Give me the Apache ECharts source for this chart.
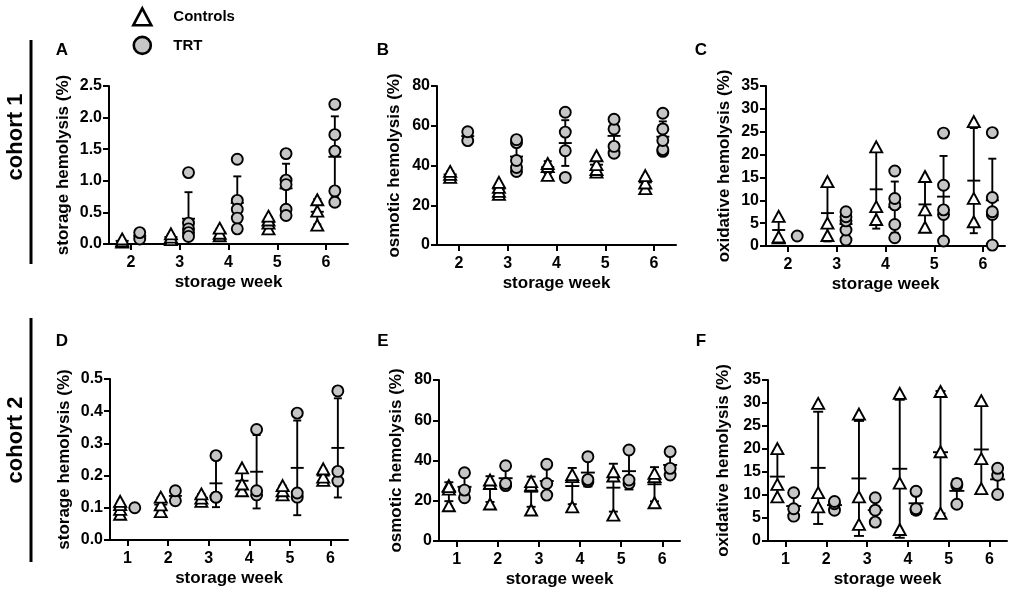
<!DOCTYPE html>
<html><head><meta charset="utf-8">
<script src="https://cdn.jsdelivr.net/npm/echarts@6/dist/echarts.min.js"></script>
<style>html,body{margin:0;padding:0;background:#fff}#chart{width:1013px;height:591px}</style>
</head><body><div id="chart"></div>
<script>
// ---------- data ----------
const weeksCohort1 = [2, 3, 4, 5, 6];
const weeksCohort2 = [1, 2, 3, 4, 5, 6];
const yMaxes = [2.5, 80, 35, 0.5, 80, 35];
const yIntervals = [0.5, 20, 5, 0.1, 20, 5];
const yDecimals = [1, 0, 0, 1, 0, 0];
const yTitles = ['storage hemolysis (%)', 'osmotic hemolysis (%)', 'oxidative hemolysis (%)',
                 'storage hemolysis (%)', 'osmotic hemolysis (%)', 'oxidative hemolysis (%)'];
const panelLetters = ['A', 'B', 'C', 'D', 'E', 'F'];
const xTitle = 'storage week';
const seriesNames = ['Controls', 'TRT'];
const cohortLabels = ['cohort 1', 'cohort 2'];

// A: storage hemolysis, cohort 1
const storage1Controls = [[0.03,0.05,0.08],[0.07,0.11,0.16],[0.13,0.17,0.25],[0.24,0.33,0.38,0.44],[0.30,0.52,0.70]];
const storage1ControlsMean = [0.05,0.11,0.18,0.35,0.51];
const storage1ControlsSD = [0.02,0.045,0.06,0.08,0.2];
const storage1TRT = [[0.08,0.18],[1.13,0.33,0.24,0.18,0.12],[1.34,0.69,0.55,0.41,0.24],[1.43,1.01,0.94,0.55,0.45],[2.21,1.73,1.47,0.84,0.66]];
const storage1TRTMean = [0.13,0.40,0.65,0.88,1.38];
const storage1TRTSD = [0.07,0.42,0.42,0.39,0.64];

// B: osmotic hemolysis, cohort 1
const osmotic1Controls = [[34,35.5,37],[25.5,27,29,31.5],[35,39.5,41],[36.7,38,40.4,44.9],[28.4,31.2,34.9]];
const osmotic1ControlsMean = [35.5,28.3,39.2,40.4,31.5];
const osmotic1ControlsSD = [1.5,2.6,3,3.6,3.3];
const osmotic1TRT = [[52.5,57],[37,39,42.5,51.5,53],[34,47.4,56.8,66.8],[46.2,49.6,58.4,63.3],[47.1,48,52.6,58.4,66.3]];
const osmotic1TRTMean = [54.8,44.5,51.3,54.9,54.5];
const osmotic1TRTSD = [3.2,7,11.5,8,7.7];

// C: oxidative hemolysis, cohort 1
const oxidative1Controls = [[1.8,2,6.5],[2.3,5,14.1],[5.8,8.6,21.7],[4.1,7.9,15.2],[5.3,10.4,27.2]];
const oxidative1ControlsMean = [3.5,7.2,12.4,9.1,14.3];
const oxidative1ControlsSD = [2.7,6.2,8.6,5.6,11.5];
const oxidative1TRT = [[2.2],[1.3,3.5,5.5,6.4,7.5],[1.8,4.7,9,10.4,16.4],[1.1,6.9,7.9,13.3,24.7],[0.2,6.9,7.5,10.6,24.8]];
const oxidative1TRTMean = [2.2,4.8,8.5,10.8,10.0];
const oxidative1TRTSD = [0,2.4,5.6,8.9,9.1];

// D: storage hemolysis, cohort 2
const storage2Controls = [[0.08,0.095,0.11,0.12],[0.088,0.109,0.133],[0.12,0.13,0.143],[0.153,0.174,0.224],[0.14,0.153,0.169],[0.185,0.195,0.221]];
const storage2ControlsMean = [0.101,0.11,0.131,0.184,0.154,0.2];
const storage2ControlsSD = [0.018,0.022,0.012,0.036,0.015,0.019];
const storage2TRT = [[0.10],[0.122,0.153],[0.133,0.133,0.262],[0.14,0.153,0.343],[0.133,0.146,0.394],[0.183,0.213,0.463]];
const storage2TRTMean = [0.10,0.137,0.176,0.212,0.224,0.286];
const storage2TRTSD = [0,0.022,0.074,0.114,0.147,0.154];

// E: osmotic hemolysis, cohort 2
const osmotic2Controls = [[17.5,25.8,27.5,27],[18.4,28.6,30.3],[15.4,27.8,29.5],[17,32,33],[12.9,32.3,34.4],[19,32,33.6]];
const osmotic2ControlsMean = [24.5,25.8,24.5,27.3,26.5,28.2];
const osmotic2ControlsSD = [4.7,6.4,7.5,9,11.9,8.5];
const osmotic2TRT = [[21.5,25.3,33.9],[27.5,28.6,37.4],[22.8,28.6,38.1],[29.5,30.5,41.9],[28.6,30.3,45.2],[32.8,36.1,44.4]];
const osmotic2TRTMean = [26.9,31.2,29.8,34,34.7,37.8];
const osmotic2TRTSD = [6.3,5.4,7.7,6.9,9.1,6.0];

// F: oxidative hemolysis, cohort 2
const oxidative2Controls = [[9.6,12.3,20.1],[7.4,10.5,29.9],[3.6,9.6,27.6],[2.5,12.6,32.1],[6,19.4,32.5],[11.4,17.9,30.5]];
const oxidative2ControlsMean = [14.0,15.9,13.6,15.7,19.3,19.9];
const oxidative2ControlsSD = [5.5,12.2,12.5,15,13.3,9.7];
const oxidative2TRT = [[5.4,7,10.5],[6.7,8.1,8.6],[4.1,6.7,9.4],[6.7,7,10.8],[8,12.1,12.5],[10.1,14.3,15.8]];
const oxidative2TRTMean = [7.6,7.8,6.7,8.2,10.9,13.4];
const oxidative2TRTSD = [2.6,1.0,2.7,2.3,2.5,3.0];

// ---------- layout ----------
const FONT = '"Liberation Sans", Arial, sans-serif';
const panels = [
  {weeks: weeksCohort1, ctrl: storage1Controls, ctrlMean: storage1ControlsMean, ctrlSD: storage1ControlsSD,
   trt: storage1TRT, trtMean: storage1TRTMean, trtSD: storage1TRTSD,
   grid: {left: 109, top: 86, width: 239, height: 158}, xmin: 1.55, xmax: 6.45, off: 0.18, yGap: 37, letter: [62, 50], hw: [4, 6.5]},
  {weeks: weeksCohort1, ctrl: osmotic1Controls, ctrlMean: osmotic1ControlsMean, ctrlSD: osmotic1ControlsSD,
   trt: osmotic1TRT, trtMean: osmotic1TRTMean, trtSD: osmotic1TRTSD,
   grid: {left: 437, top: 86, width: 239, height: 159}, xmin: 1.55, xmax: 6.45, off: 0.18, yGap: 34, letter: [383, 50], hw: [4, 6.5]},
  {weeks: weeksCohort1, ctrl: oxidative1Controls, ctrlMean: oxidative1ControlsMean, ctrlSD: oxidative1ControlsSD,
   trt: oxidative1TRT, trtMean: oxidative1TRTMean, trtSD: oxidative1TRTSD,
   grid: {left: 766, top: 86, width: 239, height: 160}, xmin: 1.55, xmax: 6.45, off: 0.19, yGap: 33, letter: [701, 50], hw: [4, 6.5]},
  {weeks: weeksCohort2, ctrl: storage2Controls, ctrlMean: storage2ControlsMean, ctrlSD: storage2ControlsSD,
   trt: storage2TRT, trtMean: storage2TRTMean, trtSD: storage2TRTSD,
   grid: {left: 110, top: 379, width: 238, height: 161}, xmin: 0.57, xmax: 6.43, off: 0.18, yGap: 37, letter: [62, 341], hw: [4, 6.5]},
  {weeks: weeksCohort2, ctrl: osmotic2Controls, ctrlMean: osmotic2ControlsMean, ctrlSD: osmotic2ControlsSD,
   trt: osmotic2TRT, trtMean: osmotic2TRTMean, trtSD: osmotic2TRTSD,
   grid: {left: 439, top: 380, width: 241, height: 161}, xmin: 0.57, xmax: 6.43, off: 0.19, yGap: 34, letter: [383, 341], hw: [4.5, 7]},
  {weeks: weeksCohort2, ctrl: oxidative2Controls, ctrlMean: oxidative2ControlsMean, ctrlSD: oxidative2ControlsSD,
   trt: oxidative2TRT, trtMean: oxidative2TRTMean, trtSD: oxidative2TRTSD,
   grid: {left: 768, top: 380, width: 239, height: 161}, xmin: 0.57, xmax: 6.43, off: 0.2, yGap: 36, letter: [701, 341], hw: [5, 7.5]}
];

function makeErrRender(hw) {
  return function (params, api) {
    const x = api.value(0), m = api.value(1), s = api.value(2);
    if (!(s > 0)) return null;
    const top = api.coord([x, m + s]);
    const bot = api.coord([x, m - s]);
    const mid = api.coord([x, m]);
    const st = {stroke: '#000', lineWidth: 1.9};
    return {type: 'group', children: [
      {type: 'line', shape: {x1: top[0], y1: top[1], x2: bot[0], y2: bot[1]}, style: st},
      {type: 'line', shape: {x1: top[0] - hw[0], y1: top[1], x2: top[0] + hw[0], y2: top[1]}, style: st},
      {type: 'line', shape: {x1: bot[0] - hw[0], y1: bot[1], x2: bot[0] + hw[0], y2: bot[1]}, style: st},
      {type: 'line', shape: {x1: mid[0] - hw[1], y1: mid[1], x2: mid[0] + hw[1], y2: mid[1]}, style: st}
    ]};
  };
}

const grids = [], xAxes = [], yAxes = [], series = [];
const axisLineStyle = {color: '#000', width: 2};
panels.forEach((p, k) => {
  grids.push(p.grid);
  xAxes.push({
    type: 'value', gridIndex: k, min: p.xmin, max: p.xmax,
    name: xTitle, nameLocation: 'middle', nameGap: 30,
    nameTextStyle: {fontFamily: FONT, fontWeight: 'bold', fontSize: 17, color: '#000'},
    axisLine: {show: true, onZero: false, lineStyle: axisLineStyle},
    axisTick: {show: true, length: 6, lineStyle: axisLineStyle, customValues: p.weeks},
    axisLabel: {fontFamily: FONT, fontWeight: 'bold', fontSize: 16, color: '#000', margin: 11, customValues: p.weeks},
    splitLine: {show: false}
  });
  yAxes.push({
    type: 'value', gridIndex: k, min: 0, max: yMaxes[k], interval: yIntervals[k],
    name: yTitles[k], nameLocation: 'middle', nameGap: p.yGap,
    nameTextStyle: {fontFamily: FONT, fontWeight: 'bold', fontSize: 17, color: '#000'},
    axisLine: {show: true, lineStyle: axisLineStyle},
    axisTick: {show: true, length: 6, lineStyle: axisLineStyle},
    axisLabel: {fontFamily: FONT, fontWeight: 'bold', fontSize: 16, color: '#000', margin: 7,
                formatter: v => v.toFixed(yDecimals[k])},
    splitLine: {show: false}
  });
  const groups = [
    {name: seriesNames[0], vals: p.ctrl, mean: p.ctrlMean, sd: p.ctrlSD, dx: -p.off,
     symbol: 'triangle', size: [12, 11], color: '#fff'},
    {name: seriesNames[1], vals: p.trt, mean: p.trtMean, sd: p.trtSD, dx: p.off,
     symbol: 'circle', size: 11, color: '#c6c6c6'}
  ];
  groups.forEach(g => {
    const pts = [];
    p.weeks.forEach((w, i) => g.vals[i].forEach(v => pts.push([w + g.dx, v])));
    series.push({
      type: 'custom', name: g.name + ' SD', xAxisIndex: k, yAxisIndex: k, clip: true, z: 2,
      renderItem: makeErrRender(p.hw), encode: {x: 0, y: 1},
      data: p.weeks.map((w, i) => [w + g.dx, g.mean[i], g.sd[i]]), silent: true
    });
    series.push({
      type: 'scatter', name: g.name, xAxisIndex: k, yAxisIndex: k, z: 3,
      symbol: g.symbol, symbolSize: g.size,
      itemStyle: {color: g.color, borderColor: '#000', borderWidth: 1.9, opacity: 1},
      data: pts
    });
  });
});

const graphics = [];
panels.forEach((p, k) => {
  graphics.push({type: 'text', x: p.letter[0], y: p.letter[1],
    style: {text: panelLetters[k], font: 'bold 17px ' + FONT, fill: '#000', align: 'center', verticalAlign: 'middle'}});
});
graphics.push({type: 'rect', shape: {x: 29.5, y: 40, width: 3, height: 224}, style: {fill: '#000'}});
graphics.push({type: 'rect', shape: {x: 29.5, y: 318, width: 3, height: 244}, style: {fill: '#000'}});
graphics.push({type: 'text', x: 16, y: 137, rotation: Math.PI / 2,
  style: {text: cohortLabels[0], font: 'bold 22px ' + FONT, fill: '#000', align: 'center', verticalAlign: 'middle'}});
graphics.push({type: 'text', x: 16, y: 440, rotation: Math.PI / 2,
  style: {text: cohortLabels[1], font: 'bold 22px ' + FONT, fill: '#000', align: 'center', verticalAlign: 'middle'}});

const chart = echarts.init(document.getElementById('chart'), null, {renderer: 'canvas'});
chart.setOption({
  animation: false,
  backgroundColor: '#fff',
  legend: {
    data: [{name: seriesNames[0], icon: 'triangle'}, {name: seriesNames[1], icon: 'circle'}],
    orient: 'vertical', left: 132, top: 7, padding: 0, itemWidth: 18, itemHeight: 17, itemGap: 9,
    itemStyle: {borderWidth: 2.6, borderColor: '#000'},
    formatter: n => '{g|}' + n,
    textStyle: {fontFamily: FONT, fontWeight: 'bold', fontSize: 15, color: '#000', rich: {g: {width: 17}}}
  },
  grid: grids, xAxis: xAxes, yAxis: yAxes, series: series, graphic: graphics
});
</script></body></html>
